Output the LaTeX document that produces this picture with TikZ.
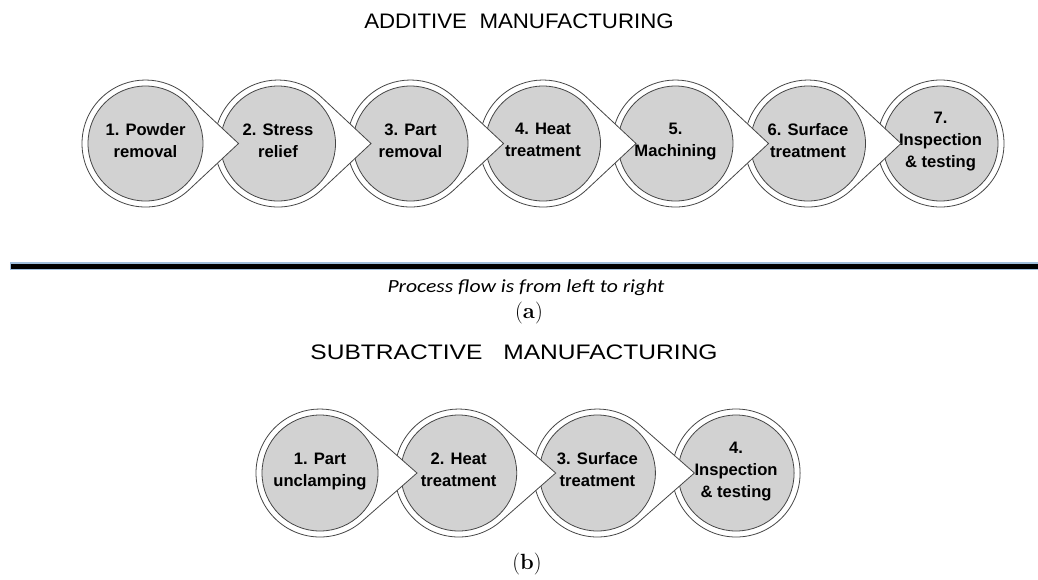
\documentclass[tikz,border=0pt]{standalone}
\usepackage{fontspec}
\newfontfamily\stepfont{Liberation Sans}
\newfontfamily\notefont{Carlito}
\usetikzlibrary{positioning,calc}

\definecolor{ringline}{RGB}{70,70,70}
\definecolor{stepgray}{RGB}{210,210,210}
\definecolor{ruleedge}{RGB}{160,190,220}

\begin{document}
\begin{tikzpicture}[x=1pt,y=-1pt,
	ring/.style={draw=ringline, fill=white, line width=0.8pt},
	stepnode/.style={circle, draw=ringline, fill=stepgray, line width=0.8pt,
		minimum size=#1, inner sep=0pt, align=center,
		font=\stepfont\bfseries\fontsize{16.6}{22}\selectfont,
		execute at begin node=\strut, execute at end node=\strut},
	heading/.style={font=\stepfont\fontsize{21}{24}\selectfont},
	label/.style={font=\fontsize{22}{24}\selectfont}]
	\useasboundingbox (0,0) rectangle (1038,579);

	% (a) additive
	\node[heading] (titleA) at (519,21) {\scalebox{1.06}[1]{ADDITIVE\hspace{6pt} MANUFACTURING}};
	\foreach \i/\txt in {7/{7.\\Inspection\\\& testing}, 6/{6. Surface\\treatment},
		5/{5.\\Machining}, 4/{4. Heat\\treatment}, 3/{3. Part\\removal},
		2/{2. Stress\\relief}, 1/{1. Powder\\removal}} {
		\pgfmathsetmacro\cx{145.5+132.5*(\i-1)}
		\coordinate (ca\i) at (\cx,143.5);
		\ifnum\i<7
			\draw[ring] ($(ca\i)+(93,0)$) -- ($(ca\i)+(47:63.5)$)
				arc[start angle=47, end angle=313, radius=63.5] -- cycle;
		\else
			\draw[ring] (ca\i) circle (63.5);
		\fi
		\node[stepnode=115pt] (a\i) at (ca\i) {\txt};
	}

	\coordinate (ruleL) at (10,266);
	\coordinate (ruleR) at (1038,266);
	\draw[ruleedge, line width=8.5pt] (ruleL) -- (ruleR);
	\draw[black, line width=5pt] ([xshift=1pt]ruleL) -- (ruleR);
	\node[font=\notefont\itshape\fontsize{18.5}{20}\selectfont] (flow) at (526,288) {\scalebox{1.17}[1]{Process flow is from left to right}};
	\node[label] (capA) at (529,313) {(\textbf{a})};

	% (b) subtractive
	\node[heading] (titleB) at (514,352) {\scalebox{1.17}[1]{SUBTRACTIVE\hspace{12pt} MANUFACTURING}};
	\foreach \i/\txt in {4/{4.\\Inspection\\\& testing}, 3/{3. Surface\\treatment},
		2/{2. Heat\\treatment}, 1/{1. Part\\unclamping}} {
		\pgfmathsetmacro\cx{320+138.7*(\i-1)}
		\coordinate (cb\i) at (\cx,473);
		\ifnum\i<4
			\draw[ring] ($(cb\i)+(97,0)$) -- ($(cb\i)+(48:64)$)
				arc[start angle=48, end angle=312, radius=64] -- cycle;
		\else
			\draw[ring] (cb\i) circle (64);
		\fi
		\node[stepnode=116pt] (b\i) at (cb\i) {\txt};
	}
	\node[label] (capB) at (527,564) {(\textbf{b})};
\end{tikzpicture}
\end{document}
